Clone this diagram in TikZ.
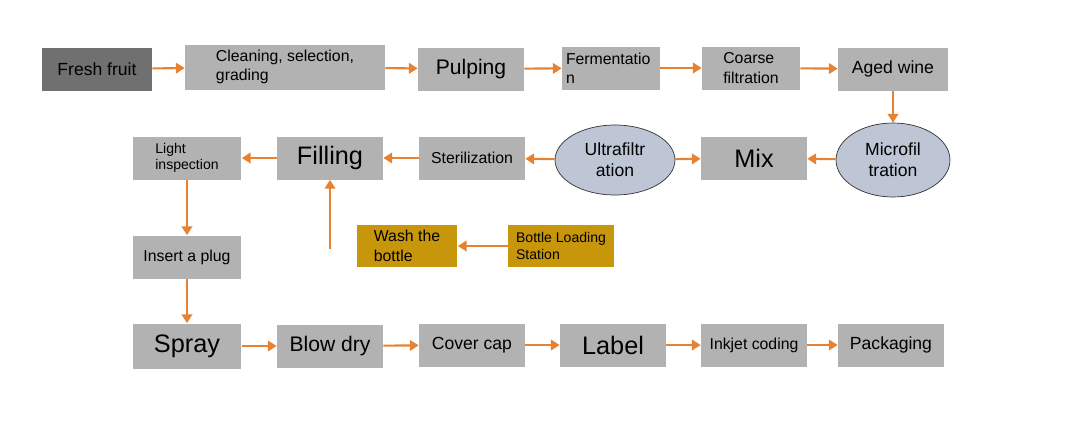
\documentclass[tikz,border=0pt]{standalone}
\usepackage{fontspec}
\setmainfont{Liberation Sans}
\usetikzlibrary{shapes.geometric,arrows.meta,positioning,calc}
\definecolor{boxgray}{RGB}{178,178,178}
\definecolor{darkgray}{RGB}{112,112,112}
\definecolor{bottlegold}{RGB}{200,150,10}
\definecolor{ovalblue}{RGB}{190,198,214}
\definecolor{flowarrow}{RGB}{230,130,50}
\begin{document}
\begin{tikzpicture}[
    x=0.02cm, y=-0.02cm,
    box/.style={rectangle, fill=boxgray, minimum width=2.12cm, minimum height=0.86cm, align=left, inner sep=2pt, font=\small},
    oval/.style={ellipse, draw=black!80, fill=ovalblue, minimum width=2.35cm, minimum height=1.4cm, align=center, inner sep=0pt},
    arrow/.style={-{Triangle[length=5pt,width=6pt]}, draw=flowarrow, line width=1.2pt}
]
    \useasboundingbox (0,0) rectangle (1069,424);

    % Top row
    \node[box, fill=darkgray, minimum width=2.2cm, font=\normalsize] (fruit) at (97,69) {Fresh fruit};
    \node[box, minimum width=4cm, minimum height=0.9cm] (clean) at (285,67) {Cleaning, selection,\\grading};
    \node[box, font=\large] (pulp) at (471,69) {Pulping};
    \node[box, minimum width=1.96cm, text width=1.8cm] (ferment) at (611,68) {Fermentatio\\n};
    \node[box, minimum width=1.96cm] (coarse) at (751,68) {Coarse\\filtration};
    \node[box, minimum width=2.2cm, font=\normalsize] (aged) at (893,69) {Aged wine};

    % Middle row
    \node[oval, minimum width=2.28cm, minimum height=1.48cm] (micro) at (893,160) {Microfil\\tration};
    \node[box, font=\Large] (mix) at (754,158) {Mix};
    \node[oval, minimum width=2.4cm] (ultra) at (615,160) {Ultrafiltr\\ation};
    \node[box] (steril) at (472,158) {Sterilization};
    \node[box, font=\Large] (fill) at (330,158) {Filling};
    \node[box, minimum width=2.18cm, font=\footnotesize] (light) at (187,158) {Light\\inspection};

    % Bottle line
    \node[box, fill=bottlegold, minimum width=2.12cm, minimum height=0.84cm, font=\footnotesize] (load) at (561,246) {Bottle Loading\\Station};
    \node[box, fill=bottlegold, minimum width=2.02cm, minimum height=0.84cm] (wash) at (407,246) {Wash the\\bottle};
    \coordinate (washup) at (330,249);
    \node[box, minimum width=2.18cm] (plug) at (187,257) {Insert a plug};

    % Bottom row
    \node[box, minimum width=2.18cm, minimum height=0.9cm, font=\Large] (spray) at (187,346) {Spray};
    \node[box, font=\large] (blow) at (330,346) {Blow dry};
    \node[box, font=\normalsize] (cap) at (472,345) {Cover cap};
    \node[box, font=\Large] (label) at (613,345) {Label};
    \node[box] (inkjet) at (754,345) {Inkjet coding};
    \node[box, font=\normalsize] (pack) at (891,345) {Packaging};

    % Arrows
    \draw[arrow] (fruit) -- (clean);
    \draw[arrow] (clean) -- (pulp);
    \draw[arrow] (pulp) -- (ferment);
    \draw[arrow] (ferment) -- (coarse);
    \draw[arrow] (coarse) -- (aged);
    \draw[arrow] (aged) -- (micro);
    \draw[arrow] (micro) -- (mix);
    \draw[arrow] (ultra) -- (mix);
    \draw[arrow] (ultra) -- (steril);
    \draw[arrow] (steril) -- (fill);
    \draw[arrow] (fill) -- (light);
    \draw[arrow] (load) -- (wash);
    \draw[arrow] (washup) -- (fill);
    \draw[arrow] (light) -- (plug);
    \draw[arrow] (plug) -- (spray);
    \draw[arrow] (spray) -- (blow);
    \draw[arrow] (blow) -- (cap);
    \draw[arrow] (cap) -- (label);
    \draw[arrow] (label) -- (inkjet);
    \draw[arrow] (inkjet) -- (pack);
\end{tikzpicture}
\end{document}
